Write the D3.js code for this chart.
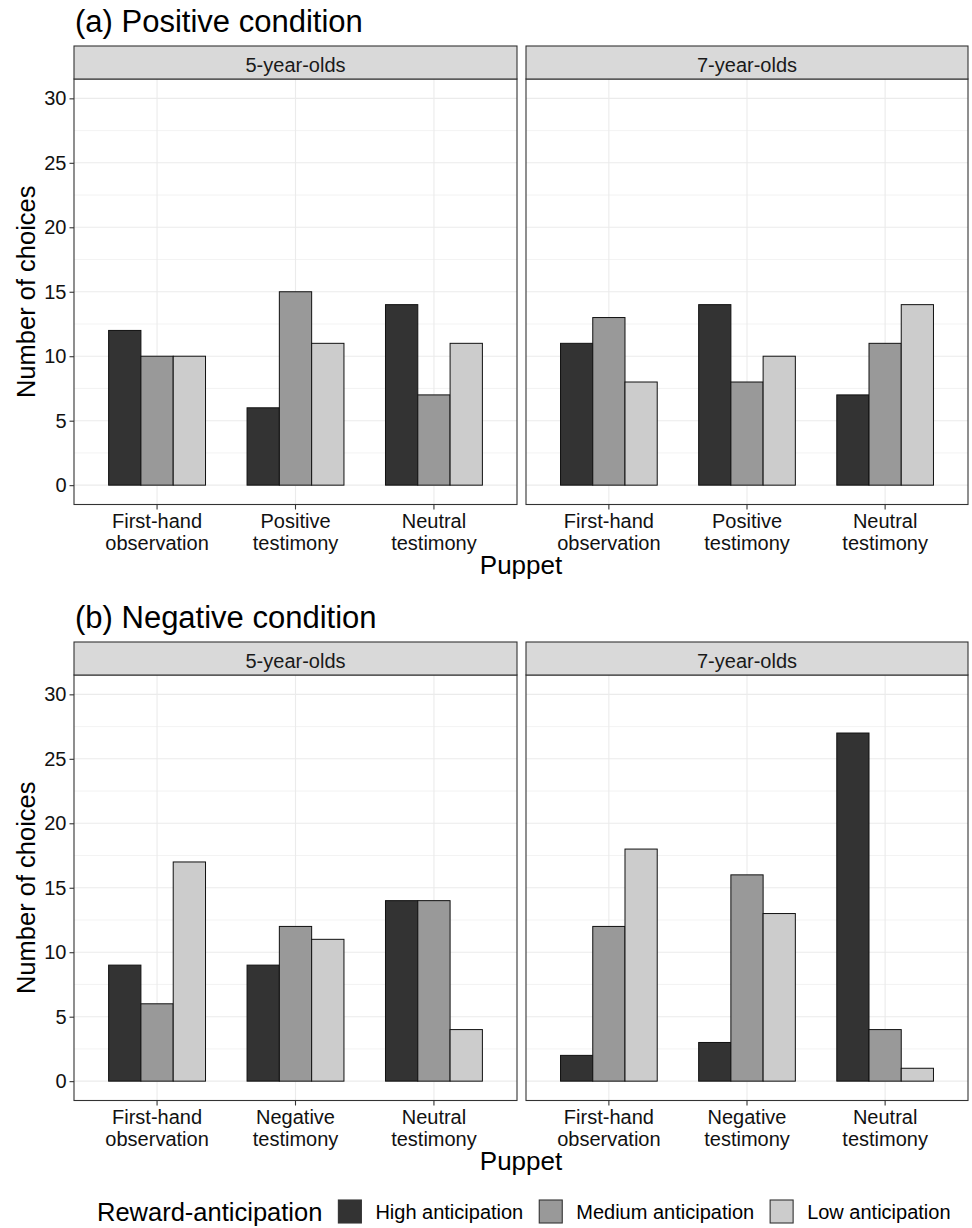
<!DOCTYPE html>
<html>
<head>
<meta charset="utf-8">
<script src="https://cdn.jsdelivr.net/npm/d3@7"></script>
<style>
  body { margin: 0; background: #fff; }
  svg { display: block; font-family: "Liberation Sans", Arial, sans-serif; }
</style>
</head>
<body>
<div id="chart"></div>
<script>
// data
const ageGroups = ["5-year-olds", "7-year-olds"];
const anticipationLevels = ["High anticipation", "Medium anticipation", "Low anticipation"];
const positivePuppets = ["First-hand observation", "Positive testimony", "Neutral testimony"];
const negativePuppets = ["First-hand observation", "Negative testimony", "Neutral testimony"];
// one row per puppet: high, medium, low
const positive5 = [[12, 10, 10], [6, 15, 11], [14, 7, 11]];
const positive7 = [[11, 13, 8], [14, 8, 10], [7, 11, 14]];
const negative5 = [[9, 6, 17], [9, 12, 11], [14, 14, 4]];
const negative7 = [[2, 12, 18], [3, 16, 13], [27, 4, 1]];
const yTicks = [0, 5, 10, 15, 20, 25, 30];
const yMinorTicks = [2.5, 7.5, 12.5, 17.5, 22.5, 27.5];
const fills = ["#333333", "#999999", "#cccccc"];

const conditions = [
  { title: "(a) Positive condition", puppets: positivePuppets, values: [positive5, positive7], offset: 0 },
  { title: "(b) Negative condition", puppets: negativePuppets, values: [negative5, negative7], offset: 596 },
];

//
const W = 972, H = 1228;
const panelX = [[74, 517], [526, 968]];
const stripTop = 46, stripH = 33, panelTop = 79, panelBottom = 504.5;

const svg = d3.select("#chart").append("svg")
  .attr("width", W)
  .attr("height", H)
  .attr("viewBox", [0, 0, W, H]);

const y = d3.scaleLinear().domain([-1.5, 31.5]).range([panelBottom, panelTop]);

conditions.forEach((cond) => {
  const g = svg.append("g").attr("transform", `translate(0,${cond.offset})`);

  g.append("text")
    .attr("x", 75)
    .attr("y", 32)
    .attr("font-size", 31)
    .attr("fill", "#000")
    .text(cond.title);

  ageGroups.forEach((age, ai) => {
    const [x0, x1] = panelX[ai];
    const x = d3.scaleBand()
      .domain(cond.puppets)
      .range([x0, x1])
      .paddingInner(0.3)
      .paddingOuter(0.25);
    const xSub = d3.scaleBand().domain(anticipationLevels).range([0, x.bandwidth()]);
    const p = g.append("g").attr("class", "panel");

    // grid
    p.append("g").selectAll("line").data(yMinorTicks).join("line")
      .attr("x1", x0).attr("x2", x1)
      .attr("y1", (d) => y(d)).attr("y2", (d) => y(d))
      .attr("stroke", "#ebebeb").attr("stroke-width", 0.6);
    p.append("g").selectAll("line").data(yTicks).join("line")
      .attr("x1", x0).attr("x2", x1)
      .attr("y1", (d) => y(d)).attr("y2", (d) => y(d))
      .attr("stroke", "#ebebeb").attr("stroke-width", 1.1);
    p.append("g").selectAll("line").data(cond.puppets).join("line")
      .attr("x1", (d) => x(d) + x.bandwidth() / 2).attr("x2", (d) => x(d) + x.bandwidth() / 2)
      .attr("y1", panelTop).attr("y2", panelBottom)
      .attr("stroke", "#ebebeb").attr("stroke-width", 1.1);

    // bars
    const rows = cond.values[ai].flatMap((vals, pi) =>
      vals.map((v, li) => ({ puppet: cond.puppets[pi], level: anticipationLevels[li], value: v, li }))
    );
    p.append("g").selectAll("rect").data(rows).join("rect")
      .attr("x", (d) => x(d.puppet) + xSub(d.level))
      .attr("y", (d) => y(d.value))
      .attr("width", xSub.bandwidth())
      .attr("height", (d) => y(0) - y(d.value))
      .attr("fill", (d) => fills[d.li])
      .attr("stroke", "#111")
      .attr("stroke-width", 1);

    // border
    p.append("rect")
      .attr("x", x0).attr("y", panelTop)
      .attr("width", x1 - x0).attr("height", panelBottom - panelTop)
      .attr("fill", "none").attr("stroke", "#333").attr("stroke-width", 1.1);

    // strip
    p.append("rect")
      .attr("x", x0).attr("y", stripTop)
      .attr("width", x1 - x0).attr("height", stripH)
      .attr("fill", "#d9d9d9").attr("stroke", "#333").attr("stroke-width", 1.1);
    p.append("text")
      .attr("x", (x0 + x1) / 2)
      .attr("y", 72)
      .attr("text-anchor", "middle")
      .attr("font-size", 20)
      .attr("fill", "#1a1a1a")
      .text(age);

    // x axis
    const ax = p.append("g")
      .attr("transform", `translate(0,${panelBottom})`)
      .call(d3.axisBottom(x).tickSize(5))
      .attr("font-size", 20)
      .attr("font-family", null);
    ax.select(".domain").remove();
    ax.selectAll(".tick line").attr("stroke", "#333").attr("stroke-width", 1.1);
    ax.selectAll(".tick text").each(function (d) {
      const t = d3.select(this).attr("y", null).attr("dy", null).attr("fill", "#111").text(null);
      d.split(" ").forEach((word, i) => {
        t.append("tspan").attr("x", 0).attr("y", i === 0 ? 23.5 : 45.5).text(word);
      });
    });

    // y axis
    if (ai === 0) {
      const ay = p.append("g")
        .attr("transform", `translate(${x0},0)`)
        .call(d3.axisLeft(y).tickValues(yTicks).tickSize(4.5).tickPadding(3))
        .attr("font-size", 20)
        .attr("font-family", null);
      ay.select(".domain").remove();
      ay.selectAll(".tick line").attr("stroke", "#333").attr("stroke-width", 1.1);
      ay.selectAll(".tick text").attr("fill", "#111");
    }
  });

  // axis titles
  g.append("text")
    .attr("transform", `translate(35,${(panelTop + panelBottom) / 2}) rotate(-90)`)
    .attr("text-anchor", "middle")
    .attr("font-size", 25.5)
    .attr("fill", "#000")
    .text("Number of choices");
  g.append("text")
    .attr("x", (panelX[0][0] + panelX[1][1]) / 2)
    .attr("y", 574)
    .attr("text-anchor", "middle")
    .attr("font-size", 26)
    .attr("fill", "#000")
    .text("Puppet");
});

// legend
const legend = svg.append("g").attr("class", "legend");
const legendTitle = legend.append("text")
  .attr("x", 97)
  .attr("y", 1221)
  .attr("font-size", 25.5)
  .attr("fill", "#000")
  .text("Reward-anticipation");
let cursor = 97 + legendTitle.node().getComputedTextLength() + 16;
anticipationLevels.forEach((lvl, i) => {
  legend.append("rect")
    .attr("x", cursor).attr("y", 1200)
    .attr("width", 23).attr("height", 23)
    .attr("fill", fills[i]).attr("stroke", "#333").attr("stroke-width", 1.1);
  const t = legend.append("text")
    .attr("x", cursor + 23 + 14)
    .attr("y", 1219)
    .attr("font-size", 20)
    .attr("fill", "#000")
    .text(lvl);
  cursor = cursor + 23 + 14 + t.node().getComputedTextLength() + 16;
});
</script>
</body>
</html>
